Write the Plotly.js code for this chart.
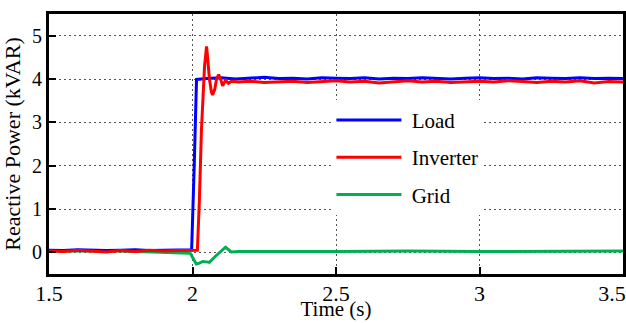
<!DOCTYPE html>
<html>
<head>
<meta charset="utf-8">
<script src="https://cdn.plot.ly/plotly-3.0.1.min.js"></script>
<style>html,body{margin:0;padding:0;background:#fff;}#chart{width:626px;height:323px;}</style>
</head>
<body>
<div id="chart"></div>
<script>
// Load (blue)
const tLoad = [1.5,1.55,1.6,1.65,1.7,1.75,1.8,1.85,1.9,1.95,1.997,2.006,2.014,
  2.05,2.1,2.15,2.2,2.25,2.3,2.35,2.4,2.45,2.5,2.55,2.6,2.65,2.7,2.75,2.8,2.85,2.9,2.95,3.0,3.05,3.1,3.15,3.2,3.25,3.3,3.35,3.4,3.45,3.5];
const vLoad = [0.05,0.04,0.06,0.05,0.04,0.05,0.06,0.04,0.05,0.06,0.06,2.0,3.99,
  4.01,4.03,4.00,4.02,4.04,4.01,4.02,4.00,4.03,4.02,4.01,4.03,4.00,4.02,4.01,4.03,4.02,4.00,4.02,4.03,4.01,4.02,4.00,4.03,4.02,4.01,4.03,4.01,4.02,4.01];

// Inverter (red)
const tInv = [1.5,1.55,1.6,1.65,1.7,1.75,1.8,1.85,1.9,1.95,2.0,2.017,2.024,2.031,2.042,2.049,2.052,2.059,2.066,2.070,2.077,2.084,2.091,2.098,2.105,2.115,2.125,2.136,2.16,
  2.2,2.25,2.3,2.35,2.4,2.45,2.5,2.55,2.6,2.65,2.7,2.75,2.8,2.85,2.9,2.95,3.0,3.05,3.1,3.15,3.2,3.25,3.3,3.35,3.4,3.45,3.5];
const vInv = [0.03,0.02,0.05,0.03,0.01,0.04,0.02,0.05,0.03,0.04,0.05,0.05,1.2,2.8,4.3,4.75,4.55,4.0,3.7,3.63,3.75,4.0,4.1,4.0,3.84,3.97,3.9,3.95,3.93,
  3.95,3.92,3.94,3.95,3.92,3.94,3.96,3.93,3.95,3.91,3.94,3.96,3.93,3.95,3.92,3.94,3.95,3.93,3.96,3.94,3.92,3.95,3.93,3.96,3.91,3.94,3.93];

// Grid (green)
const tGrid = [1.5,1.75,1.992,2.013,2.024,2.036,2.049,2.059,2.08,2.1,2.115,2.135,2.16,2.5,2.75,3.0,3.25,3.5];
const vGrid = [0.03,0.03,-0.02,-0.27,-0.25,-0.21,-0.22,-0.23,-0.09,0.03,0.12,0.01,0.02,0.02,0.03,0.02,0.02,0.03];

const xTicks = [1.5,2,2.5,3,3.5];
const xTickText = ['1.5','2','2.5','3','3.5'];
const yTicks = [0,1,2,3,4,5];

const serif = '"Liberation Serif", "Times New Roman", serif';

const traces = [
  {x:tGrid, y:vGrid, name:'\u00a0Grid', mode:'lines', line:{color:'#00b050', width:3}, legendrank:3, legendgroup:'g'},
  {x:tLoad, y:vLoad, name:'\u00a0Load', mode:'lines', line:{color:'#0000ff', width:3}, legendrank:1, legendgroup:'l'},
  {x:tInv, y:vInv, name:'\u00a0Inverter', mode:'lines', line:{color:'#ff0000', width:3}, legendrank:2, legendgroup:'i'}
];

const axisCommon = {
  showline:true, linecolor:'#000', linewidth:3, mirror:true,
  ticks:'inside', ticklen:7, tickwidth:2, tickcolor:'#000',
  showgrid:true, gridcolor:'#555', gridwidth:1, griddash:'2px,3px',
  zeroline:false, ticklabeloverflow:'allow'
};

const layout = {
  width:626, height:323,
  margin:{l:49, r:3, t:14, b:49},
  paper_bgcolor:'#fff', plot_bgcolor:'#fff',
  showlegend:true,
  legend:{x:0.492, y:0.67, xanchor:'left', yanchor:'top', bgcolor:'#fff', borderwidth:0,
    font:{family:serif, size:21, color:'#000'}, tracegroupgap:7, itemwidth:65, traceorder:'grouped'},
  xaxis:Object.assign({}, axisCommon, {range:[1.5,3.5], tickvals:xTicks, ticktext:xTickText,
    automargin:false, tickfont:{family:serif, size:22, color:'#000'},
    title:{text:'Time (s)', font:{family:serif, size:21, color:'#000'}}}),
  yaxis:Object.assign({}, axisCommon, {range:[-0.5,5.5], tickvals:yTicks, automargin:false,
    tickfont:{family:serif, size:20, color:'#000'},
    title:{text:'Reactive Power (kVAR)', font:{family:serif, size:22, color:'#000'}}})
};

function shiftY(el, dy) {
  var y = parseFloat(el.getAttribute('y')) || 0;
  el.setAttribute('y', y + dy);
}

Plotly.newPlot('chart', traces, layout, {displayModeBar:false, staticPlot:true}).then(function(){
  var root = document.getElementById('chart').getBoundingClientRect();
  // x tick labels: sit a little closer to the axis, as in the reference
  var labels = document.querySelectorAll('.xtick text');
  labels.forEach(function(el){
    var r = el.getBoundingClientRect();
    shiftY(el, 293 - ((r.top + r.bottom) / 2 - root.top));
  });
  // the last x tick label sits left of its tick in the reference (kept inside the figure)
  if (labels.length) {
    var last = labels[labels.length - 1];
    var tr = last.getAttribute('transform') || '';
    last.setAttribute('transform', tr + ' translate(-11,0)');
  }
  // x-axis title just under the tick labels
  var t = document.querySelector('.g-xtitle text');
  if (t) {
    var r = t.getBoundingClientRect();
    shiftY(t, 309 - ((r.top + r.bottom) / 2 - root.top));
  }
});
</script>
</body>
</html>
